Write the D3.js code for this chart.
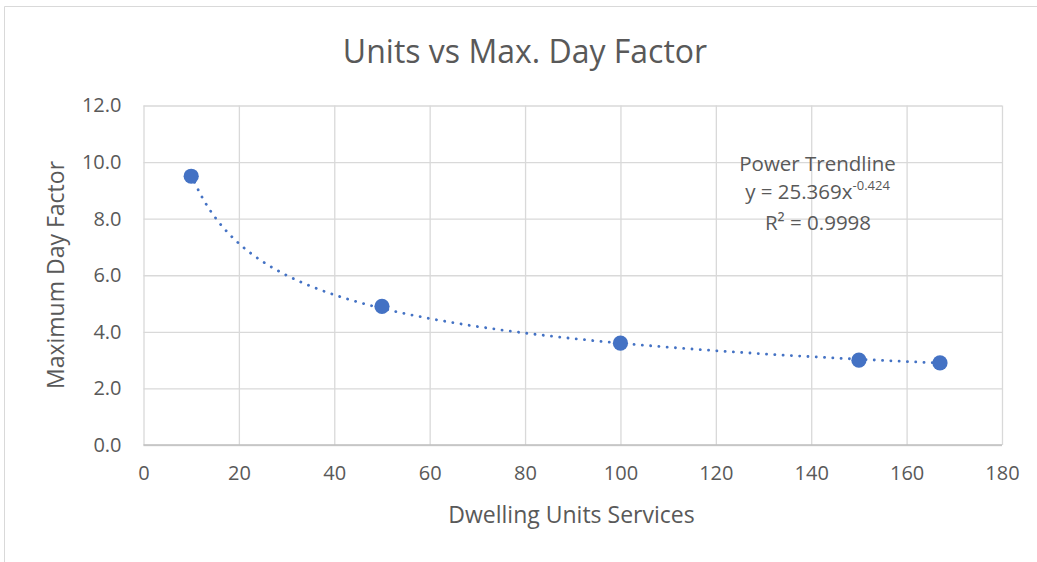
<!DOCTYPE html>
<html>
<head>
<meta charset="utf-8">
<script src="https://cdn.jsdelivr.net/npm/d3@7"></script>
<style>
  body { margin: 0; background: #fff; }
  text { font-family: "Open Sans", "Noto Sans", sans-serif; fill: #595959; }
</style>
</head>
<body>
<div id="chart"></div>
<script>
// data
var units = [10, 50, 100, 150, 167];
var dayFactor = [9.5, 4.9, 3.6, 3.0, 2.9];
var xTicks = [0, 20, 40, 60, 80, 100, 120, 140, 160, 180];
var yTicks = [0, 2, 4, 6, 8, 10, 12];
// trendline coefficients as printed on the chart
var trendA = 25.369;
var trendB = -0.424;

var W = 1037, H = 562;
var margin = {top: 105.5, right: 35, bottom: 117, left: 143.5};
var width = W - margin.left - margin.right;
var height = H - margin.top - margin.bottom;

var svg = d3.select("#chart").append("svg")
  .attr("width", W)
  .attr("height", H);

// chart area border
svg.append("path")
  .attr("d", "M4.5," + H + "V6.5H" + W)
  .attr("fill", "none")
  .attr("stroke", "#d9d9d9")
  .attr("stroke-width", 1);

var g = svg.append("g")
  .attr("transform", "translate(" + margin.left + "," + margin.top + ")");

var x = d3.scaleLinear().domain([0, 180]).range([0, width]);
var y = d3.scaleLinear().domain([0, 12]).range([height, 0]);

// gridlines
g.append("g")
  .call(d3.axisLeft(y).tickValues(yTicks).tickSize(-width).tickFormat(""))
  .call(a => a.select(".domain").remove())
  .selectAll("line").attr("stroke", "#d9d9d9").attr("stroke-width", 1.3);
g.append("g")
  .attr("transform", "translate(0," + height + ")")
  .call(d3.axisBottom(x).tickValues(xTicks).tickSize(-height).tickFormat(""))
  .call(a => a.select(".domain").remove())
  .selectAll("line").attr("stroke", "#d9d9d9").attr("stroke-width", 1.3);

// tick labels
var yAxis = g.append("g")
  .call(d3.axisLeft(y).tickValues(yTicks).tickSize(0).tickPadding(22).tickFormat(d3.format(".1f")));
yAxis.select(".domain").remove();
yAxis.selectAll("text").style("font-size", "20px").attr("fill", "#595959");

var xAxis = g.append("g")
  .attr("transform", "translate(0," + height + ")")
  .call(d3.axisBottom(x).tickValues(xTicks).tickSize(0).tickPadding(21));
xAxis.select(".domain").remove();
xAxis.selectAll("text").style("font-size", "20px").attr("fill", "#595959");

// axis baseline
g.append("line")
  .attr("x1", 0).attr("x2", width)
  .attr("y1", height).attr("y2", height)
  .attr("stroke", "#bfbfbf").attr("stroke-width", 1.5);

// trendline
var trendPts = d3.range(0, 201).map(i => {
  var xv = units[0] + (units[units.length - 1] - units[0]) * i / 200;
  return [xv, trendA * Math.pow(xv, trendB)];
});
g.append("path")
  .datum(trendPts)
  .attr("d", d3.line().x(d => x(d[0])).y(d => y(d[1])))
  .attr("fill", "none")
  .attr("stroke", "#4472c4")
  .attr("stroke-width", 2.8)
  .attr("stroke-linecap", "round")
  .attr("stroke-dasharray", "0.1,8.2");

// points
g.selectAll("circle")
  .data(units)
  .enter().append("circle")
  .attr("cx", d => x(d))
  .attr("cy", (d, i) => y(dayFactor[i]))
  .attr("r", 7.6)
  .attr("fill", "#4472c4");

// title
svg.append("text")
  .attr("x", 525).attr("y", 63)
  .attr("text-anchor", "middle")
  .style("font-size", "32px")
  .text("Units vs Max. Day Factor");

// axis titles
svg.append("text")
  .attr("x", 571.5).attr("y", 523)
  .attr("text-anchor", "middle")
  .style("font-size", "23px")
  .text("Dwelling Units Services");

svg.append("text")
  .attr("transform", "translate(64,275) rotate(-90)")
  .attr("text-anchor", "middle")
  .style("font-size", "23px")
  .text("Maximum Day Factor");

// trendline label
var lab = svg.append("g").style("font-size", "20.5px").attr("text-anchor", "middle");
lab.append("text").attr("x", 817.5).attr("y", 171).text("Power Trendline");
var eq = lab.append("text").attr("x", 817.5).attr("y", 199);
eq.append("tspan").text("y = " + trendA + "x");
eq.append("tspan").attr("dy", -9).style("font-size", "13px").text(trendB);
var r2 = lab.append("text").attr("x", 818).attr("y", 230);
r2.append("tspan").text("R² = 0.9998");
</script>
</body>
</html>
